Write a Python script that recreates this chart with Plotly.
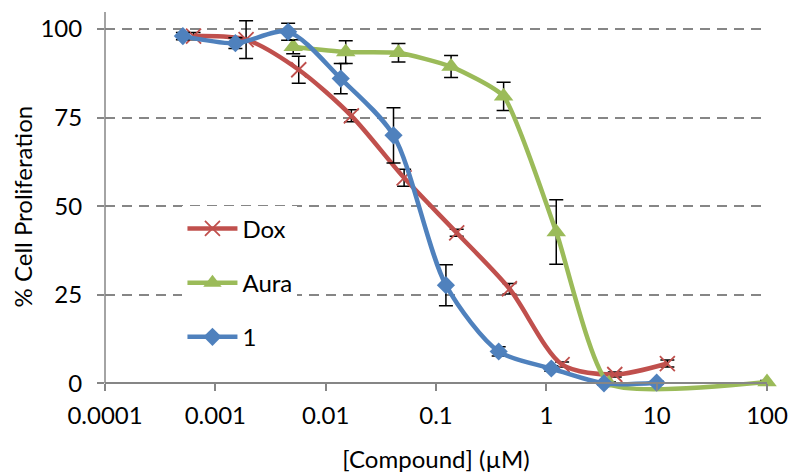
import plotly.graph_objects as go

# ---- data ----
dox_x = [0.000635, 0.0019, 0.0057, 0.0171, 0.0514, 0.154, 0.463, 1.39, 4.17, 12.5]
dox_y = [98, 97, 88.5, 75.5, 58, 42.5, 26.7, 5.3, 2.5, 5.6]
dox_e = [1, 5.3, 3.8, 1.7, 2.4, 1, 1.5, 0.7, 0.7, 1]

aura_x = [0.00508, 0.0152, 0.0457, 0.137, 0.41, 1.23, 3.7, 100]
aura_y = [95, 93.5, 93.3, 89.4, 81, 42.7, 0, 0.4]
aura_e = [2, 3.2, 2.6, 3.1, 4, 9.1, 0.4, 0.4]

c1_x = [0.000508, 0.00152, 0.00457, 0.0137, 0.0412, 0.123, 0.37, 1.11, 3.33, 10]
c1_y = [98, 96, 99.2, 86, 70, 27.7, 9, 4.2, 0, 0.2]
c1_e = [1, 1.5, 2.4, 4.3, 7.8, 5.8, 1.3, 0.8, 0.4, 0.4]

x_ticks = [0.0001, 0.001, 0.01, 0.1, 1, 10, 100]
x_ticktext = ["0.0001", "0.001", "0.01", "0.1", "1", "10", "100"]
y_ticks = [0, 25, 50, 75, 100]

RED = "#C0504D"
GREEN = "#9BBB59"
BLUE = "#4F81BD"
AXIS = "#868686"
FONT = "Lato"
FS = 24

Y_MIN, Y_MAX = -3, 104.8

def err(arr):
    return dict(type="data", array=arr, visible=True, color="black",
                thickness=1.5, width=7)

fig = go.Figure()
fig.add_trace(go.Scatter(
    x=dox_x, y=dox_y, name="Dox", mode="lines+markers", legendgroup="a",
    line=dict(color=RED, width=4.5, shape="spline", smoothing=0.8),
    marker=dict(symbol="x-thin", size=15, line=dict(color=RED, width=1.8), color=RED),
    error_y=err(dox_e), cliponaxis=False))
fig.add_trace(go.Scatter(
    x=aura_x, y=aura_y, name="Aura", mode="lines+markers", legendgroup="b",
    line=dict(color=GREEN, width=4.5, shape="spline", smoothing=0.5),
    marker=dict(symbol="triangle-up", size=17, color=GREEN, line=dict(width=0)),
    error_y=err(aura_e), cliponaxis=False))
fig.add_trace(go.Scatter(
    x=c1_x, y=c1_y, name="1", mode="lines+markers", legendgroup="c",
    line=dict(color=BLUE, width=4.5, shape="spline", smoothing=0.8),
    marker=dict(symbol="diamond", size=14, color=BLUE, line=dict(width=0)),
    error_y=err(c1_e), cliponaxis=False))

fig.update_layout(
    width=791, height=474,
    margin=dict(l=105, r=24, t=12, b=80),
    paper_bgcolor="white", plot_bgcolor="white",
    font=dict(family=FONT, size=FS, color="black"),
    legend=dict(x=0.117, y=0.291, xanchor="left", yanchor="middle",
                bgcolor="white", font=dict(size=FS, family=FONT),
                traceorder="grouped", tracegroupgap=20,
                itemwidth=50, entrywidth=80, entrywidthmode="pixels"),
    showlegend=True,
    shapes=[
        # y axis line (from 0 up to the top of the plot)
        dict(type="line", xref="paper", yref="y", x0=0, x1=0, y0=0, y1=Y_MAX,
             line=dict(color=AXIS, width=1.5), layer="above"),
        # white mask behind the legend, over the gridlines
        dict(type="rect", xref="paper", yref="y", x0=0.071, x1=0.14, y0=15, y1=60,
             fillcolor="white", line=dict(width=0), layer="between"),
    ],
    annotations=[
        dict(text="% Cell Proliferation", textangle=-90, showarrow=False,
             xref="paper", yref="paper", x=-0.125, xanchor="center",
             y=(50 - Y_MIN) / (Y_MAX - Y_MIN), yanchor="middle",
             font=dict(size=FS, family=FONT)),
    ],
)
fig.update_xaxes(
    type="log", range=[-4, 2], tickvals=x_ticks, ticktext=x_ticktext,
    anchor="free", position=(0 - Y_MIN) / (Y_MAX - Y_MIN),
    showgrid=False, showline=True, linecolor=AXIS, linewidth=1.5,
    ticks="outside", ticklen=7, tickcolor=AXIS, tickwidth=1.5,
    tickfont=dict(size=FS, family=FONT), ticklabelstandoff=4,
    title=dict(text="[Compound] (µM)", font=dict(size=FS, family=FONT), standoff=22),
    zeroline=False, automargin=False)
fig.update_yaxes(
    range=[Y_MIN, Y_MAX], tickvals=y_ticks,
    showgrid=True, gridcolor=AXIS, gridwidth=1.5, griddash="10px,7px",
    showline=False,
    ticks="outside", ticklen=7, tickcolor=AXIS, tickwidth=1.5,
    tickfont=dict(size=FS, family=FONT), ticklabelstandoff=10,
    zeroline=False, automargin=False)

fig.write_html("out.html", config=dict(displayModeBar=False),
               post_script="document.body.style.margin='0';document.body.style.padding='0';")
